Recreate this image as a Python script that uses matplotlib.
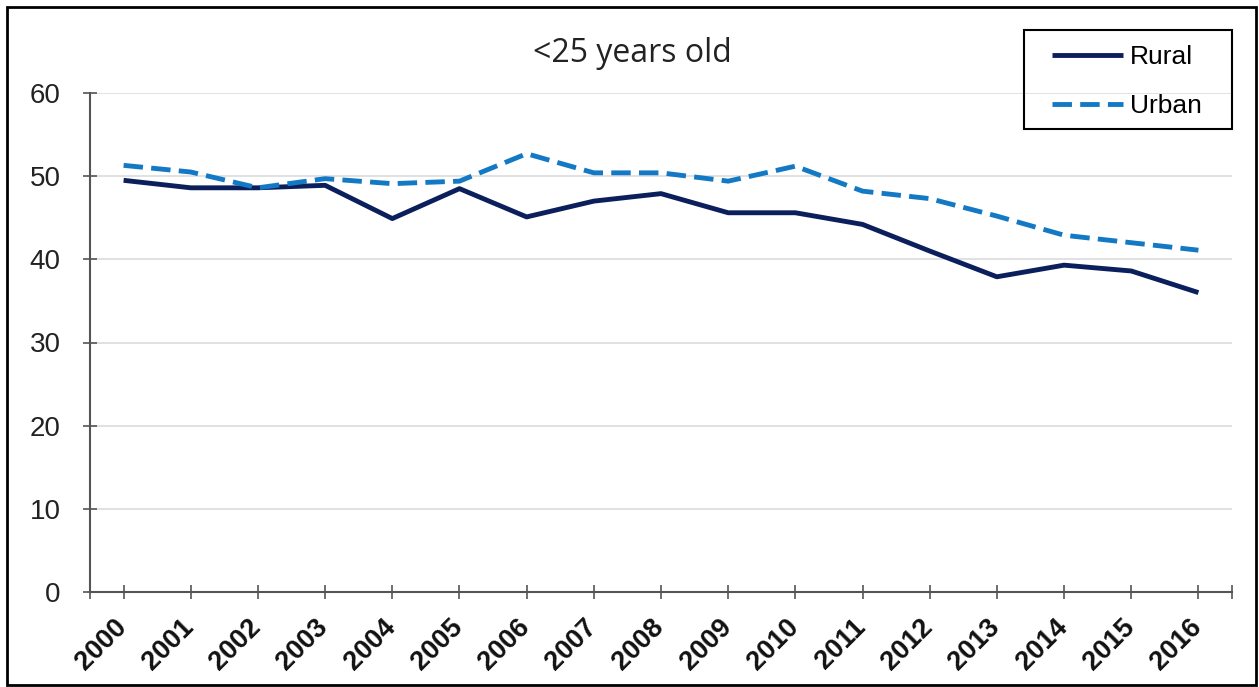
import matplotlib
matplotlib.use("Agg")
import matplotlib.pyplot as plt
from matplotlib.patches import Rectangle
from matplotlib.ticker import FixedLocator
from matplotlib.legend_handler import HandlerLine2D
from matplotlib.lines import Line2D
from matplotlib.transforms import ScaledTranslation

years = [str(y) for y in range(2000, 2017)]
rural = [49.5, 48.6, 48.6, 48.9, 44.9, 48.5, 45.1, 47.0, 47.9, 45.6, 45.6, 44.2, 41.0, 37.9, 39.3, 38.6, 36.0]
urban = [51.3, 50.5, 48.6, 49.7, 49.1, 49.4, 52.7, 50.4, 50.4, 49.4, 51.2, 48.2, 47.3, 45.2, 42.9, 42.0, 41.1]
yticks = [0, 10, 20, 30, 40, 50, 60]
title = "<25 years old"

W, H = 1259, 687
fig = plt.figure(figsize=(W / 100, H / 100), dpi=100)
fig.patches.append(Rectangle((7 / W, 2 / H), 1249 / W, 678 / H, transform=fig.transFigure,
                             fill=False, edgecolor="black", linewidth=2))

ax = fig.add_axes([90 / W, (H - 592) / H, (1232 - 90) / W, (592 - 93) / H])

# shift rotated x tick labels slightly left (as in the reference)
_shift = ScaledTranslation(-10 / 100, 0, fig.dpi_scale_trans)
_orig_text1 = ax.get_xaxis_text1_transform
def _shifted_text1(pad):
    t, va, ha = _orig_text1(pad)
    return t + _shift, va, ha
ax.get_xaxis_text1_transform = _shifted_text1

x = list(range(len(years)))
ax.plot(x, rural, color="#0b1f5c", linewidth=3.5, label="Rural", solid_capstyle="butt")
ax.plot(x, urban, color="#1479c4", linewidth=3.5, label="Urban", dashes=(4.0, 1.7), dash_capstyle="butt")

ax.set_xlim(-0.5, len(years) - 0.5)
ax.set_ylim(0, 60)
ax.set_yticks(yticks)
ax.set_yticklabels([str(v) for v in yticks], fontsize=20, family="Liberation Sans", color="#222222")
ax.set_xticks(x)
ax.set_xticklabels(years, rotation=45, ha="right", rotation_mode="anchor", fontsize=19.5,
                   fontweight="bold", family="Liberation Sans", color="#111111")
ax.xaxis.set_minor_locator(FixedLocator([-0.5, len(years) - 0.5]))
ax.tick_params(axis="both", which="both", direction="inout", length=10, width=1.2, color="#555555")
ax.tick_params(axis="y", pad=16)
ax.tick_params(axis="x", pad=11)
ax.grid(axis="y", color="#dcdcdc", linewidth=1.2)
ax.set_axisbelow(True)
for s in ["top", "right"]:
    ax.spines[s].set_visible(False)
for s in ["left", "bottom"]:
    ax.spines[s].set_color("#555555")
    ax.spines[s].set_linewidth(1.5)

fig.text(632 / W, 1 - 53 / H, title, ha="center", va="center", fontsize=23, family="Open Sans", color="#222222")

# legend frame (Excel-style box)
fig.patches.append(Rectangle((1024 / W, 1 - 129 / H), 208 / W, 99 / H, transform=fig.transFigure,
                             fill=False, edgecolor="black", linewidth=1.5))
leg = ax.legend(loc="upper left", bbox_to_anchor=(1024 / W, 1 - 30 / H), bbox_transform=fig.transFigure,
                frameon=False, prop={"family": "Liberation Sans", "size": 19},
                handlelength=3.19, handletextpad=0.27, borderpad=0.56, labelspacing=0.97,
                borderaxespad=0, handler_map={Line2D: HandlerLine2D(xpad=0.5)})

fig.savefig("out.png", dpi=100)
